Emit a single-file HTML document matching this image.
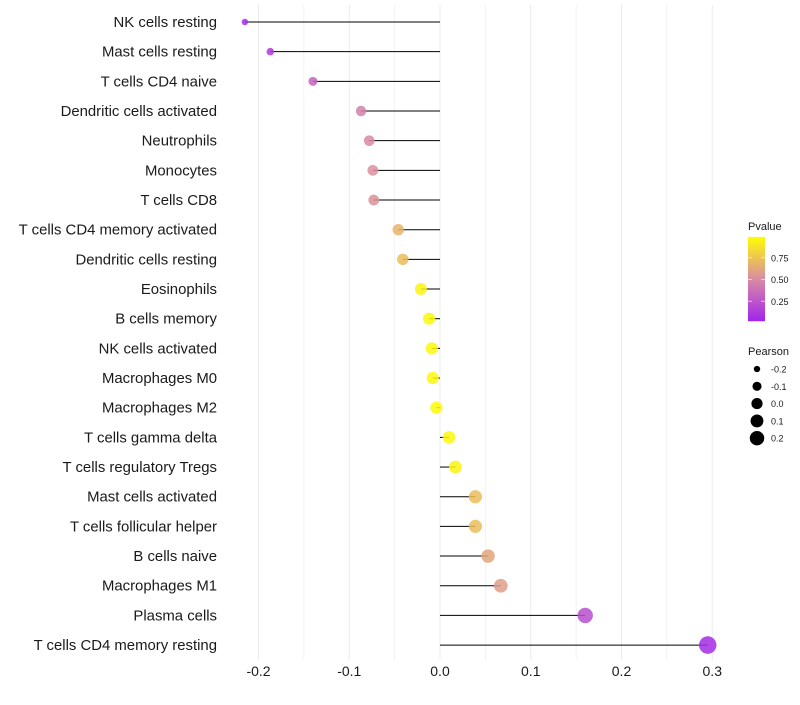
<!DOCTYPE html>
<html><head><meta charset="utf-8"><style>
body{margin:0;background:#fff;font-family:"Liberation Sans",sans-serif}
</style></head><body>
<svg id="chart" width="800" height="700" xmlns="http://www.w3.org/2000/svg"></svg>
<script>
const categories=["NK cells resting","Mast cells resting","T cells CD4 naive","Dendritic cells activated","Neutrophils","Monocytes","T cells CD8","T cells CD4 memory activated","Dendritic cells resting","Eosinophils","B cells memory","NK cells activated","Macrophages M0","Macrophages M2","T cells gamma delta","T cells regulatory  Tregs ","Mast cells activated","T cells follicular helper","B cells naive","Macrophages M1","Plasma cells","T cells CD4 memory resting"];
const pearson=[-0.215,-0.187,-0.140,-0.087,-0.078,-0.074,-0.073,-0.046,-0.041,-0.021,-0.012,-0.009,-0.008,-0.004,0.010,0.017,0.039,0.039,0.053,0.067,0.160,0.295];
const pvalues=[0.05,0.12,0.32,0.45,0.5,0.52,0.53,0.68,0.72,0.95,0.97,0.97,0.97,0.98,0.97,0.95,0.72,0.72,0.62,0.58,0.22,0.05];
const xTicks=[-0.2,-0.1,0.0,0.1,0.2,0.3];
const xTickLabels=["-0.2","-0.1","0.0","0.1","0.2","0.3"];
const pLegendTicks=[0.25,0.5,0.75];
const sizeLegend=[-0.2,-0.1,0.0,0.1,0.2];

const svg=document.getElementById('chart');
const NS="http://www.w3.org/2000/svg";
const x0=440,xs=907.5;
const X=v=>x0+v*xs;
const Y=i=>22+i*29.67;
const R=v=>Math.sqrt(6+ (v+0.25)*130);
function lerp(a,b,t){return a.map((c,i)=>Math.round(c+(b[i]-c)*t));}
function col(p){const s=[[160,32,240],[217,138,164],[255,255,0]];
 const c=p<0.5?lerp(s[0],s[1],p/0.5):lerp(s[1],s[2],(p-0.5)/0.5);return `rgb(${c})`;}
function mk(t,a,p){const e=document.createElementNS(NS,t);for(const k in a)e.setAttribute(k,a[k]);(p||svg).appendChild(e);return e;}
const PY=v=>323-v*87;
// grid
for(let k=-4;k<=6;k++){const v=k*0.05;const g=mk('line',{x1:X(v),x2:X(v),y1:5,y2:660,stroke:'#ebebeb','stroke-width':k%2===0?1:0.6});
}
xTicks.forEach((v,i)=>{const t=mk('text',{x:X(v),y:676,'text-anchor':'middle','font-size':14,fill:'#1a1a1a'});t.textContent=xTickLabels[i];
});
categories.forEach((c,i)=>{
 const t=mk('text',{x:217,y:Y(i)+5,'text-anchor':'end','font-size':14.9,fill:'#1a1a1a'});t.textContent=c;
 
 const l=mk('line',{x1:X(0),x2:X(pearson[i]),y1:Y(i),y2:Y(i),stroke:'#000','stroke-width':1});
 
 const d=mk('circle',{cx:X(pearson[i]),cy:Y(i),r:R(pearson[i]),fill:col(pvalues[i]),'fill-opacity':0.85});
 
});
// color legend
let t=mk('text',{x:748,y:230,'font-size':11,fill:'#1a1a1a'});t.textContent='Pvalue';

const defs=mk('defs',{});const gr=mk('linearGradient',{id:'pg',x1:0,y1:1,x2:0,y2:0},defs);
[0,0.25,0.5,0.75,1].forEach(s=>mk('stop',{offset:s,'stop-color':col(0.02+s*0.97)},gr));
const cb=mk('rect',{x:748,y:PY(0.99),width:17,height:PY(0.02)-PY(0.99),fill:'url(#pg)'});

pLegendTicks.forEach(v=>{mk('line',{x1:748,x2:752,y1:PY(v),y2:PY(v),stroke:'#fff','stroke-opacity':0.6});mk('line',{x1:761,x2:765,y1:PY(v),y2:PY(v),stroke:'#fff','stroke-opacity':0.6});
 const tt=mk('text',{x:771,y:PY(v)+3.5,'font-size':9,fill:'#1a1a1a'});tt.textContent=v.toFixed(2);
 });
t=mk('text',{x:748,y:355,'font-size':11,fill:'#1a1a1a'});t.textContent='Pearson';

sizeLegend.forEach((v,i)=>{const y=369+i*17.3;
 const c=mk('circle',{cx:757,cy:y,r:R(v)*0.9,fill:'#000'});
 const tt=mk('text',{x:771,y:y+3.5,'font-size':9,fill:'#1a1a1a'});tt.textContent=v.toFixed(1);
 });
</script>
</body></html>
